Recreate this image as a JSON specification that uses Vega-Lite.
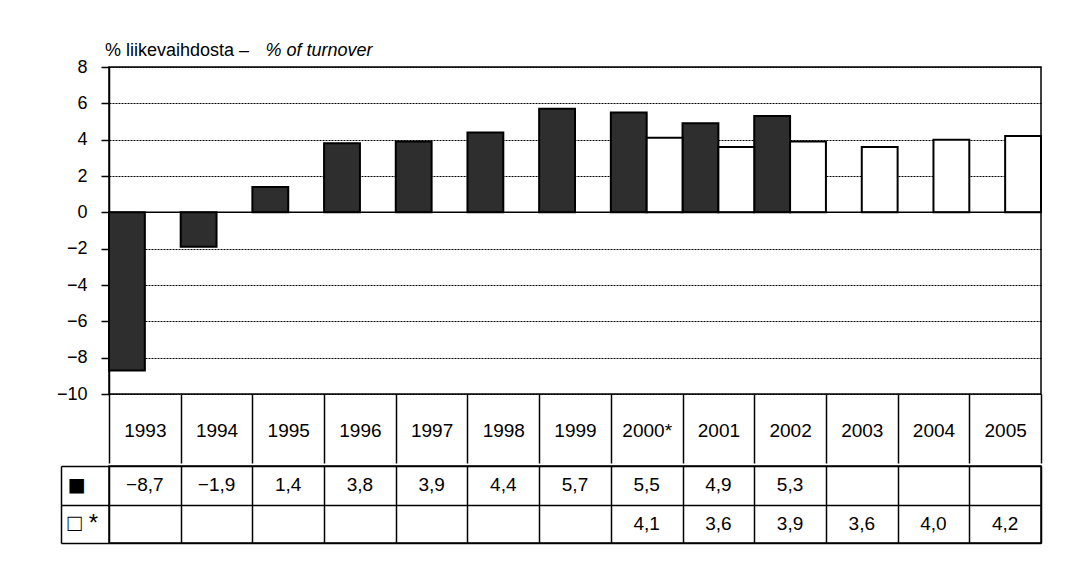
{
  "$schema": "https://vega.github.io/schema/vega-lite/v6.json",
  "background": "white",
  "padding": {"left": 55, "top": 40, "right": 5, "bottom": 5},
  "spacing": -12,
  "config": {
    "font": "Liberation Sans",
    "locale": {"number": {"decimal": ",", "thousands": "\u00a0", "grouping": [3], "currency": ["", " €"], "minus": "\u2212"}},
    "view": {"stroke": "black", "strokeWidth": 1.5},
    "axis": {"labelFont": "Liberation Sans", "labelColor": "black", "labelFontSize": 18, "titleFont": "Liberation Sans", "titleColor": "black", "tickColor": "black", "domainColor": "black"}
  },
  "datasets": {
    "values": [
      {"year": "1993", "series": "■", "value": -8.7},
      {"year": "1994", "series": "■", "value": -1.9},
      {"year": "1995", "series": "■", "value": 1.4},
      {"year": "1996", "series": "■", "value": 3.8},
      {"year": "1997", "series": "■", "value": 3.9},
      {"year": "1998", "series": "■", "value": 4.4},
      {"year": "1999", "series": "■", "value": 5.7},
      {"year": "2000*", "series": "■", "value": 5.5},
      {"year": "2001", "series": "■", "value": 4.9},
      {"year": "2002", "series": "■", "value": 5.3},
      {"year": "2000*", "series": "□ *", "value": 4.1},
      {"year": "2001", "series": "□ *", "value": 3.6},
      {"year": "2002", "series": "□ *", "value": 3.9},
      {"year": "2003", "series": "□ *", "value": 3.6},
      {"year": "2004", "series": "□ *", "value": 4.0},
      {"year": "2005", "series": "□ *", "value": 4.2}
    ]
  },
  "vconcat": [
    {
      "width": 932,
      "height": 327,
      "title": {"text": "% liikevaihdosta –", "anchor": "start", "frame": "group", "fontSize": 18, "fontWeight": "normal", "color": "black", "font": "Liberation Sans", "baseline": "alphabetic", "offset": 0, "dx": -4, "dy": 33},
      "layer": [
        {
          "data": {"name": "values"},
          "mark": {"type": "bar", "stroke": "black", "strokeWidth": 2},
          "encoding": {
            "x": {"field": "year", "type": "nominal", "sort": null,
              "scale": {"domain": ["1993","1994","1995","1996","1997","1998","1999","2000*","2001","2002","2003","2004","2005"], "paddingInner": 0, "paddingOuter": 0},
              "axis": {"title": null, "orient": "bottom", "tickBand": "extent", "tickSize": 69, "tickWidth": 1.5, "domain": false, "grid": false, "labelPadding": -33, "labelBaseline": "middle", "labelAngle": 0, "labelFontSize": 19, "labelBound": false, "labelOverlap": false, "labelFlush": false}},
            "xOffset": {"field": "series", "type": "nominal", "scale": {"domain": ["■", "□ *"], "paddingInner": 0, "paddingOuter": 0}},
            "y": {"field": "value", "type": "quantitative",
              "scale": {"domain": [-10, 8], "nice": false, "zero": false},
              "axis": {"values": [-10, -8, -6, -4, -2, 0, 2, 4, 6, 8], "tickCount": 20, "format": "d", "grid": true, "gridColor": "black", "gridDash": [2, 1], "gridWidth": 1.2, "tickSize": 8, "tickWidth": 1.5, "domainWidth": 1.5, "labelPadding": 14, "labelFontSize": 18, "labelOverlap": false, "labelBound": false, "labelFlush": false,
                "title": "% of turnover", "titleAngle": 0, "titleAlign": "left", "titleBaseline": "alphabetic", "titleX": 156, "titleY": -12, "titleFontStyle": "italic", "titleFontWeight": "normal", "titleFontSize": 18}},
            "fill": {"field": "series", "type": "nominal", "scale": {"domain": ["■", "□ *"], "range": ["#2e2e2e", "#ffffff"]}, "legend": null}
          }
        },
        {
          "data": {"values": [{}]},
          "mark": {"type": "rule", "color": "black", "strokeWidth": 1.5},
          "encoding": {"y": {"datum": 0}}
        }
      ]
    },
    {
      "width": 932,
      "height": 77,
      "data": {"name": "values"},
      "mark": {"type": "text", "fontSize": 19, "color": "black", "font": "Liberation Sans"},
      "encoding": {
        "x": {"field": "year", "type": "nominal", "sort": null,
          "scale": {"domain": ["1993","1994","1995","1996","1997","1998","1999","2000*","2001","2002","2003","2004","2005"], "paddingInner": 0, "paddingOuter": 0},
          "axis": {"title": null, "grid": true, "tickBand": "extent", "gridColor": "black", "gridWidth": 1.5, "gridDash": [], "labels": false, "ticks": false, "domain": false}},
        "y": {"field": "series", "type": "nominal", "sort": null,
          "scale": {"domain": ["■", "□ *"], "paddingInner": 0, "paddingOuter": 0},
          "axis": {"title": null, "offset": 48, "grid": true, "tickBand": "extent", "gridColor": "black", "gridWidth": 1.5, "gridDash": [], "tickSize": -48, "tickWidth": 1.5, "domainWidth": 1.5, "labelAlign": "left", "labelPadding": 42, "labelBaseline": "middle",
            "labelFontSize": {"condition": {"test": "datum.value == '■'", "value": 30}, "value": 24}}},
        "text": {"field": "value", "type": "quantitative", "format": ".1f"}
      }
    }
  ]
}
